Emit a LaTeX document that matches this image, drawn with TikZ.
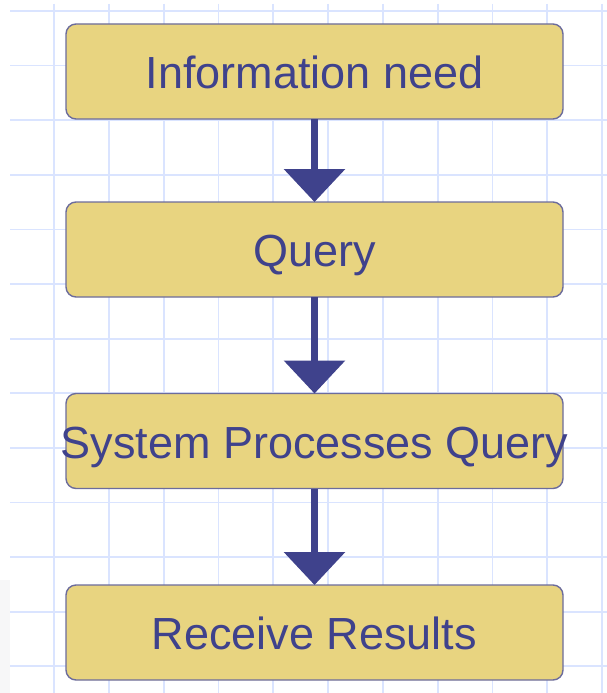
\documentclass[tikz,border=0pt]{standalone}
\usepackage{fontspec}
\setmainfont{Liberation Sans}
\usetikzlibrary{arrows.meta}
\definecolor{gridc}{RGB}{218,228,255}
\definecolor{boxfill}{RGB}{232,212,128}
\definecolor{boxline}{RGB}{108,108,156}
\definecolor{inkc}{RGB}{63,66,140}
\definecolor{edgegrey}{RGB}{247,247,248}
\tikzset{
  box/.style={draw=boxline, line width=1.4pt, fill=boxfill, rounded corners=10pt,
    minimum width=497pt, minimum height=95pt, inner sep=0pt, outer sep=0pt},
  lbl/.style={font=\fontsize{45pt}{50pt}\selectfont, text=inkc, inner sep=0pt,
    text height=34pt, text depth=0pt},
  flow/.style={draw=inkc, line width=7pt, -{Triangle[width=60pt,length=33pt]}},
  gridline/.style={draw=gridc, line width=1.8pt}
}
\begin{document}
\begin{tikzpicture}[x=1pt,y=-1pt]
\useasboundingbox (0,0) rectangle (607,693);
\fill[white] (0,0) rectangle (607,693);
\fill[edgegrey] (0,580) rectangle (10,693);
\foreach \k in {0,...,12} {
  \draw[gridline] (10,11+54.6*\k) -- (607,11+54.6*\k);
}
\foreach \k in {0,...,10} {
  \draw[gridline] (54+54.8*\k,4) -- (54+54.8*\k,693);
}
\node[box] (b1) at (314.5,71.5) {};
\node[box] (b2) at (314.5,249.5) {};
\node[box] (b3) at (314.5,441) {};
\node[box] (b4) at (314.5,632.5) {};
\node[lbl] (t1) at (b1.center) {Information need};
\node[lbl] (t2) at (b2.center) {Query};
\node[lbl] (t3) at (b3.center) {System Processes Query};
\node[lbl] (t4) at (b4.center) {Receive Results};
\draw[flow] (b1.south) -- (b2.north);
\draw[flow] (b2.south) -- (b3.north);
\draw[flow] (b3.south) -- (b4.north);
\end{tikzpicture}
\end{document}
